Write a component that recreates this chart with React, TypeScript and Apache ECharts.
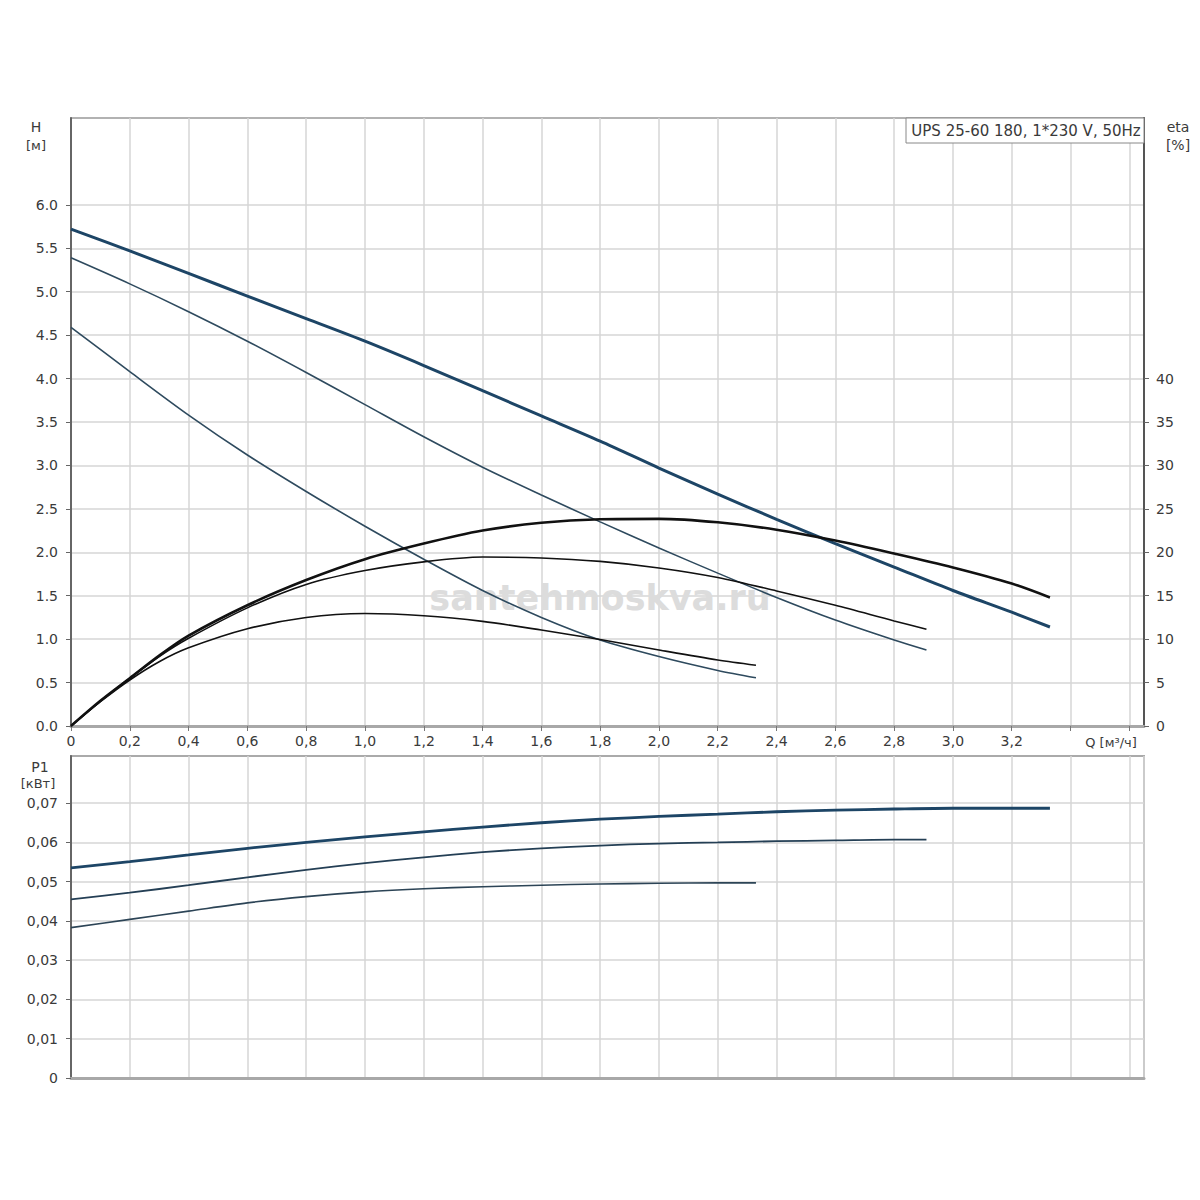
import React, { useEffect, useRef } from "react";
import * as echarts from "echarts";

// ---- data ----
const qH3 = [0, 0.2, 0.4, 0.6, 0.8, 1.0, 1.2, 1.4, 1.6, 1.8, 2.0, 2.2, 2.4, 2.6, 2.8, 3.0, 3.2, 3.33];
const H3 = [5.72, 5.47, 5.21, 4.95, 4.69, 4.43, 4.15, 3.86, 3.57, 3.28, 2.97, 2.67, 2.38, 2.1, 1.83, 1.56, 1.31, 1.14];

const qH2 = [0, 0.2, 0.4, 0.6, 0.8, 1.0, 1.2, 1.4, 1.6, 1.8, 2.0, 2.2, 2.4, 2.6, 2.8, 2.91];
const H2 = [5.39, 5.09, 4.77, 4.43, 4.07, 3.7, 3.33, 2.98, 2.66, 2.35, 2.05, 1.76, 1.48, 1.22, 0.99, 0.875];

const qH1 = [0, 0.2, 0.4, 0.6, 0.8, 1.0, 1.2, 1.4, 1.6, 1.8, 2.0, 2.2, 2.33];
const H1 = [4.59, 4.08, 3.58, 3.12, 2.7, 2.3, 1.92, 1.56, 1.25, 0.99, 0.8, 0.64, 0.555];

const qE3 = [0, 0.1, 0.2, 0.3, 0.4, 0.6, 0.8, 1.0, 1.2, 1.4, 1.6, 1.8, 2.0, 2.2, 2.4, 2.6, 2.8, 3.0, 3.2, 3.33];
const E3 = [0, 2.9, 5.5, 8.1, 10.4, 13.9, 16.8, 19.2, 21.0, 22.5, 23.4, 23.8, 23.85, 23.45, 22.6, 21.35, 19.85, 18.25, 16.4, 14.8];

const qE2 = [0, 0.1, 0.2, 0.3, 0.4, 0.6, 0.8, 1.0, 1.2, 1.4, 1.6, 1.8, 2.0, 2.2, 2.4, 2.6, 2.8, 2.91];
const E2 = [0, 2.85, 5.5, 8.0, 10.1, 13.6, 16.3, 17.9, 18.9, 19.45, 19.35, 18.95, 18.2, 17.1, 15.55, 13.9, 12.1, 11.15];

const qE1 = [0, 0.1, 0.2, 0.3, 0.4, 0.6, 0.8, 1.0, 1.2, 1.4, 1.6, 1.8, 2.0, 2.2, 2.33];
const E1 = [0, 2.8, 5.3, 7.4, 9.0, 11.2, 12.5, 12.95, 12.7, 12.05, 11.05, 9.95, 8.75, 7.6, 7.0];

const qP3 = [0, 0.2, 0.4, 0.6, 0.8, 1.0, 1.2, 1.4, 1.6, 1.8, 2.0, 2.2, 2.4, 2.6, 2.8, 3.0, 3.2, 3.33];
const P3 = [0.0535, 0.0551, 0.0568, 0.0585, 0.06, 0.0614, 0.0627, 0.0639, 0.065, 0.0659, 0.0666, 0.0672, 0.0678, 0.0682, 0.0685, 0.0687, 0.0687, 0.0687];

const qP2 = [0, 0.2, 0.4, 0.6, 0.8, 1.0, 1.2, 1.4, 1.6, 1.8, 2.0, 2.2, 2.4, 2.6, 2.8, 2.91];
const P2 = [0.0455, 0.0472, 0.0491, 0.0511, 0.053, 0.0547, 0.0562, 0.0575, 0.0585, 0.0592, 0.0597, 0.06, 0.0603, 0.0605, 0.0607, 0.0607];

const qP1 = [0, 0.2, 0.4, 0.6, 0.8, 1.0, 1.2, 1.4, 1.6, 1.8, 2.0, 2.2, 2.33];
const P1 = [0.0383, 0.0404, 0.0425, 0.0446, 0.0462, 0.0474, 0.0482, 0.0487, 0.0491, 0.0494, 0.0496, 0.0497, 0.0497];

// tick values shown on the axes
const hTicks = [0, 0.5, 1, 1.5, 2, 2.5, 3, 3.5, 4, 4.5, 5, 5.5, 6];
const etaTicks = [0, 5, 10, 15, 20, 25, 30, 35, 40];
const pTicks = [0, 0.01, 0.02, 0.03, 0.04, 0.05, 0.06, 0.07];

const pumpTitle = "UPS 25-60 180, 1*230 V, 50Hz";
const watermark = "santehmoskva.ru";

const pairs = (q: number[], v: number[]) => q.map((x, i) => [x, v[i]]);

const FONT = "'DejaVu Sans', Verdana, sans-serif";
const BLUE = "#1d4566";
const BLACK = "#111111";
const GRID = "#d6d6d6";

export default function App() {
  const ref = useRef<HTMLDivElement>(null);
  useEffect(() => {
    if (!ref.current) return;
    const chart = echarts.init(ref.current, undefined, { renderer: "svg" });
    const lbl = { color: "#3a3a3a", fontFamily: FONT, fontSize: 14 };
    const line = (name: string, q: number[], v: number[], color: string, width: number, xi: number, yi: number) => ({
      name,
      type: "line",
      data: pairs(q, v),
      xAxisIndex: xi,
      yAxisIndex: yi,
      smooth: 0.3,
      showSymbol: false,
      symbol: "none",
      lineStyle: { color, width },
      z: 3,
    });
    const txt = (x: number, y: number, text: string, size = 14, align = "center") => ({
      type: "text",
      x,
      y,
      style: { text, fill: "#3a3a3a", font: `${size}px ${FONT}`, textAlign: align, textVerticalAlign: "middle" },
      z: 10,
    });
    chart.setOption({
      animation: false,
      backgroundColor: "#ffffff",
      grid: [
        { left: 71, right: 56, top: 118, height: 608, show: true, borderColor: "#999", borderWidth: 1.5, containLabel: false },
        { left: 71, right: 56, top: 756, height: 322, show: true, borderColor: "#aaa", borderWidth: 2, containLabel: false },
      ],
      xAxis: [
        {
          type: "value",
          gridIndex: 0,
          min: 0,
          max: 3.65,
          interval: 0.2,
          axisLine: { show: true, onZero: false, lineStyle: { color: "#a8a8a8", width: 3 } },
          axisTick: { show: true, inside: false, length: 5, lineStyle: { color: "#777" } },
          axisLabel: {
            ...lbl,
            margin: 8,
            showMaxLabel: false,
            formatter: (v: number) => (v > 3.3 ? "" : v === 0 ? "0" : v.toFixed(1).replace(".", ",")),
          },
          splitLine: { show: true, lineStyle: { color: GRID, width: 1.5 } },
        },
        {
          type: "value",
          gridIndex: 1,
          min: 0,
          max: 3.65,
          interval: 0.2,
          axisLine: { show: true, onZero: false, lineStyle: { color: "#a8a8a8", width: 3 } },
          axisTick: { show: false },
          axisLabel: { show: false },
          splitLine: { show: true, lineStyle: { color: GRID, width: 1.5 } },
        },
      ],
      yAxis: [
        {
          type: "value",
          gridIndex: 0,
          min: 0,
          max: 7,
          interval: 0.5,
          position: "left",
          axisLine: { show: true, onZero: false, lineStyle: { color: "#666", width: 2 } },
          axisTick: { show: true, length: 5, customValues: hTicks, lineStyle: { color: "#666" } },
          axisLabel: { ...lbl, margin: 13, customValues: hTicks, formatter: (v: number) => v.toFixed(1) },
          splitLine: { show: true, lineStyle: { color: GRID, width: 1.5 } },
        },
        {
          type: "value",
          gridIndex: 0,
          min: 0,
          max: 70,
          interval: 5,
          position: "right",
          axisLine: { show: true, onZero: false, lineStyle: { color: "#555", width: 2 } },
          axisTick: { show: true, length: 5, customValues: etaTicks, lineStyle: { color: "#666" } },
          axisLabel: { ...lbl, margin: 12, customValues: etaTicks, formatter: (v: number) => String(v) },
          splitLine: { show: false },
        },
        {
          type: "value",
          gridIndex: 1,
          min: 0,
          max: 0.082,
          interval: 0.01,
          position: "left",
          axisLine: { show: true, onZero: false, lineStyle: { color: "#666", width: 2 } },
          axisTick: { show: true, length: 5, customValues: pTicks, lineStyle: { color: "#666" } },
          axisLabel: {
            ...lbl,
            margin: 13,
            customValues: pTicks,
            formatter: (v: number) => (v === 0 ? "0" : v.toFixed(2).replace(".", ",")),
          },
          splitLine: { show: true, lineStyle: { color: GRID, width: 1.5 } },
        },
      ],
      series: [
        line("H3", qH3, H3, BLUE, 3, 0, 0),
        line("H2", qH2, H2, "#2e4a5e", 1.6, 0, 0),
        line("H1", qH1, H1, "#2e4a5e", 1.6, 0, 0),
        line("eta3", qE3, E3, BLACK, 2.6, 0, 1),
        line("eta2", qE2, E2, BLACK, 1.6, 0, 1),
        line("eta1", qE1, E1, BLACK, 1.6, 0, 1),
        line("P1-3", qP3, P3, BLUE, 2.8, 1, 2),
        line("P1-2", qP2, P2, "#243f55", 1.8, 1, 2),
        line("P1-1", qP1, P1, "#2c4456", 1.6, 1, 2),
      ],
      graphic: [
        {
          type: "text",
          x: 600,
          y: 598,
          z: 1,
          style: {
            text: watermark,
            fill: "#dcdcdc",
            font: `bold 35px 'DejaVu Sans', Verdana, sans-serif`,
            textAlign: "center",
            textVerticalAlign: "middle",
          },
        },
        {
          type: "rect",
          shape: { x: 906, y: 118, width: 238, height: 25 },
          style: { fill: "#ffffff", stroke: "#888", lineWidth: 1 },
          z: 9,
        },
        txt(1026, 131, pumpTitle, 15),
        txt(36, 127, "H"),
        txt(36, 145, "[м]", 13),
        txt(1178, 127, "eta"),
        txt(1178, 145, "[%]"),
        txt(1111, 742, "Q [м³/ч]", 13),
        txt(40, 767, "P1"),
        txt(38, 783, "[кВт]", 13),
      ],
    });
    return () => chart.dispose();
  }, []);
  return <div ref={ref} style={{ position: "absolute", left: 0, top: 0, width: 1200, height: 1200 }} />;
}
